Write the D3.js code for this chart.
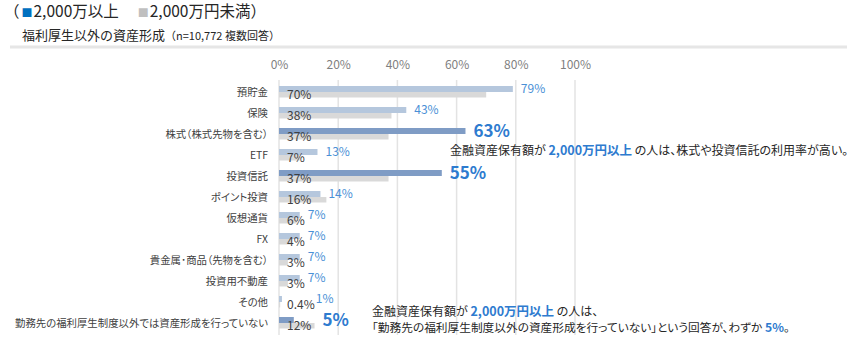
<!DOCTYPE html>
<html><head><meta charset="utf-8">
<script src="https://cdn.jsdelivr.net/npm/d3@7"></script>
<style>
html,body{margin:0;padding:0;background:#fff;}
svg{display:block;font-family:"Noto Sans CJK JP","Noto Sans",sans-serif;}
.palt{font-feature-settings:"palt";}
</style></head>
<body><svg id="chart" width="866" height="348"></svg>
<script>
const categories = ["預貯金","保険","株式（株式先物を含む）","ETF","投資信託","ポイント投資","仮想通貨","FX","貴金属･商品（先物を含む）","投資用不動産","その他","勤務先の福利厚生制度以外では資産形成を行っていない"];
const over20m = [79,43,63,13,55,14,7,7,7,7,1,5];
const under20m = [70,38,37,7,37,16,6,4,3,3,0.4,12];
const highlighted = ["株式（株式先物を含む）","投資信託","勤務先の福利厚生制度以外では資産形成を行っていない"];
const tickValues = [0,20,40,60,80,100];
const legendLabels = ["2,000万以上","2,000万円未満"];
const titleMain = "福利厚生以外の資産形成";
const titleNote = "（n=10,772 複数回答）";
const note1 = [["金融資産保有額が ",false],["2,000万円以上",true],[" の人は、株式や投資信託の利用率が高い。",false]];
const note2a = [["金融資産保有額が ",false],["2,000万円以上",true],[" の人は、",false]];
const note2b = [["「勤務先の福利厚生制度以外の資産形成を行っていない」という回答が、わずか ",false],["5%",true],["。",false]];

const svg = d3.select("#chart");
const x = d3.scaleLinear().domain([0,100]).range([279,575]);
const y = d3.scaleBand().domain(categories).range([81.5,333.5]);
const fmt = v => v + "%";
const colLight = "#b5c7dd", colDark = "#7f9cc5", colGray = "#d9d9d9";
const blueText = "#4a90d6", bigBlue = "#2e7bcf", darkText = "#404040";

// header legend
const lg = svg.append("text").attr("x",4).attr("y",17).attr("font-size",15.5).attr("fill","#262626");
lg.append("tspan").text("（");
lg.append("tspan").attr("dx",2).attr("fill","#0070c0").attr("font-size",11).text("■");
lg.append("tspan").attr("dx",1).text(legendLabels[0] + "　 ");
lg.append("tspan").attr("fill","#bfbfbf").attr("font-size",11).text("■");
lg.append("tspan").attr("dx",1).text(legendLabels[1] + "）");

const tt = svg.append("text").attr("x",22).attr("y",40).attr("fill","#262626");
tt.append("tspan").attr("font-size",13).text(titleMain);
tt.append("tspan").attr("font-size",11).text(titleNote);

svg.append("line").attr("x1",10).attr("x2",847).attr("y1",47).attr("y2",47)
  .attr("stroke","#e6e6e6").attr("stroke-width",3);

// gridlines
svg.append("g").selectAll("line").data(tickValues).join("line")
  .attr("x1",d=>x(d)).attr("x2",d=>x(d)).attr("y1",80).attr("y2",335)
  .attr("stroke","#e3e3e3").attr("stroke-width",1.5);

// top axis labels
const ax = svg.append("g").attr("transform","translate(0,69)")
  .call(d3.axisTop(x).tickValues(tickValues).tickFormat(fmt).tickSize(0).tickPadding(0));
ax.select(".domain").remove();
ax.selectAll("text").attr("font-size",12).attr("fill","#808080").attr("font-family","'Noto Sans CJK JP',sans-serif");

// category labels
const yl = svg.append("g").attr("transform","translate(268,0)")
  .call(d3.axisLeft(y).tickSize(0).tickPadding(0));
yl.select(".domain").remove();
yl.selectAll("text").attr("class","palt").attr("font-size",10.4).attr("fill",darkText)
  .attr("font-family","'Noto Sans CJK JP',sans-serif").attr("dy","0.35em");

const rows = categories.map((c,i)=>({c, a:over20m[i], b:under20m[i], hi:highlighted.includes(c)}));
const cy = d => y(d.c) + y.bandwidth()/2;

// gray bars
svg.append("g").selectAll("rect").data(rows).join("rect")
  .attr("x",x(0)).attr("y",d=>cy(d)).attr("width",d=>x(d.b)-x(0)).attr("height",5.5)
  .attr("fill",colGray);
// blue bars
svg.append("g").selectAll("rect").data(rows).join("rect")
  .attr("x",x(0)).attr("y",d=>cy(d)-6).attr("width",d=>x(d.a)-x(0)).attr("height",6)
  .attr("fill",d=>d.hi?colDark:colLight);

// gray value labels
const gl = svg.append("g").selectAll("text").data(rows).join("text")
  .attr("x",x(0)+8).attr("y",d=>cy(d)+3).attr("dy","0.35em")
  .attr("font-size",12).attr("fill",darkText).text(d=>fmt(d.b));
const glEnd = [];
gl.each(function(d,i){ glEnd[i] = x(0)+8+this.getComputedTextLength(); });

// blue value labels
svg.append("g").selectAll("text").data(rows).join("text")
  .attr("x",(d,i)=>Math.max(x(d.a)+8, x(d.b)+(d.hi?8:2), glEnd[i]+1))
  .attr("y",d=>cy(d)+(d.hi?-2.5:-3)).attr("dy","0.35em")
  .attr("font-size",d=>d.hi?17:12).attr("font-weight",d=>d.hi?"bold":"normal")
  .attr("fill",d=>d.hi?bigBlue:blueText).text(d=>fmt(d.a));

function note(xp, yp, parts, fs){
  const t = svg.append("text").attr("class","palt").attr("x",xp).attr("y",yp).attr("font-size",fs).attr("fill","#262626");
  parts.forEach(([s,b])=>{
    const ts = t.append("tspan").text(s);
    if(b) ts.attr("font-weight","bold").attr("fill",bigBlue).attr("font-size",fs+0.5);
  });
}
note(450,154.5,note1,12);
note(372,315.5,note2a,12);
note(372,331.5,note2b,11.7);
</script></body></html>
